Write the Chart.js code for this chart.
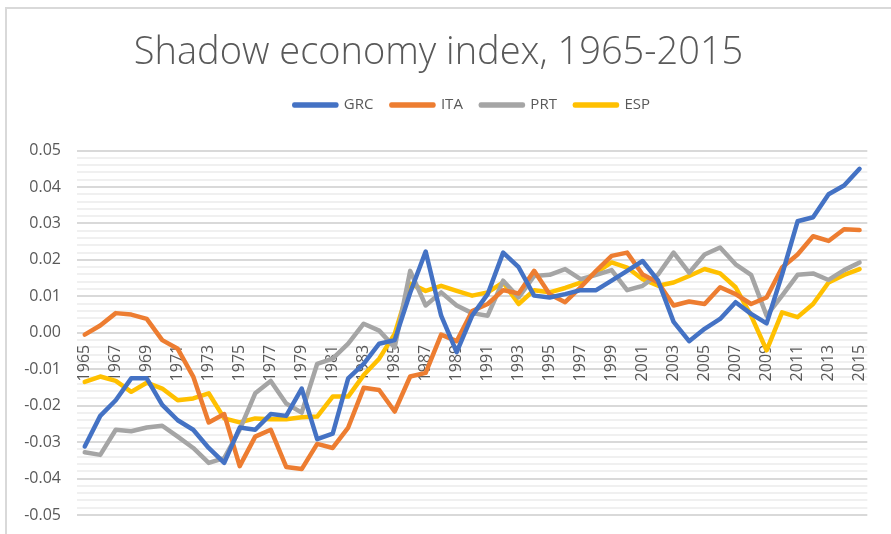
<!DOCTYPE html>
<html>
<head>
<meta charset="utf-8">
<title>Shadow economy index, 1965-2015</title>
<script src="https://cdn.jsdelivr.net/npm/chart.js@4.4.1/dist/chart.umd.min.js"></script>
<style>
    html, body { margin: 0; padding: 0; background: #fff; overflow: hidden; }
    #wrap { position: relative; width: 891px; height: 534px; }
    #frame {
        position: absolute; left: 5px; top: 7px; right: 0; bottom: 0;
        border-top: 2px solid #d9d9d9; border-left: 2px solid #d9d9d9;
        pointer-events: none;
    }
</style>
</head>
<body>
<div id="wrap">
    <canvas id="shadow-chart" width="891" height="534"></canvas>
    <div id="frame"></div>
</div>
<script>
// Data
const years = [];
for (let y = 1965; y <= 2015; y++) years.push(String(y));

const grc = [-0.0312, -0.0228, -0.0185, -0.0125, -0.0125, -0.0198, -0.024, -0.0266, -0.0316, -0.0357,
    -0.026, -0.0266, -0.0223, -0.0228, -0.0153, -0.0292, -0.0277, -0.0125, -0.0085, -0.003,
    -0.002, 0.011, 0.0223, 0.0047, -0.0053, 0.0047, 0.0106, 0.022, 0.018, 0.0102,
    0.0097, 0.0106, 0.0117, 0.0117, 0.0143, 0.017, 0.0197, 0.0143, 0.003, -0.0023,
    0.0011, 0.0038, 0.0084, 0.0052, 0.0026, 0.016, 0.0306, 0.0317, 0.038, 0.0404,
    0.045];
const ita = [-0.0005, 0.002, 0.0054, 0.005, 0.0038, -0.002, -0.0044, -0.012, -0.0246, -0.0223,
    -0.0366, -0.0285, -0.0266, -0.0368, -0.0374, -0.0305, -0.0316, -0.026, -0.0151, -0.0157,
    -0.0216, -0.012, -0.011, -0.0005, -0.0023, 0.006, 0.0079, 0.0117, 0.0108, 0.017,
    0.0106, 0.0084, 0.0125, 0.017, 0.0211, 0.022, 0.016, 0.0138, 0.0075, 0.0086,
    0.0079, 0.0125, 0.0106, 0.0079, 0.0097, 0.0179, 0.0215, 0.0265, 0.0252, 0.0284,
    0.0282];
const prt = [-0.0328, -0.0335, -0.0266, -0.027, -0.026, -0.0255, -0.0285, -0.0316, -0.0357, -0.0344,
    -0.0266, -0.0166, -0.0132, -0.0194, -0.0219, -0.0085, -0.0071, -0.003, 0.0025, 0.0006,
    -0.004, 0.017, 0.0075, 0.0111, 0.0075, 0.0054, 0.0047, 0.0143, 0.0097, 0.0156,
    0.0159, 0.0175, 0.0147, 0.0159, 0.0172, 0.0117, 0.0129, 0.016, 0.022, 0.0165,
    0.0215, 0.0234, 0.0188, 0.0159, 0.0047, 0.0102, 0.0159, 0.0163, 0.0145, 0.0172,
    0.0193];
const esp = [-0.0135, -0.012, -0.0132, -0.0162, -0.0137, -0.0153, -0.0185, -0.018, -0.0166, -0.0235,
    -0.0246, -0.0235, -0.0237, -0.0237, -0.0232, -0.023, -0.0175, -0.0175, -0.0116, -0.0071,
    -0.0003, 0.0135, 0.0115, 0.0129, 0.0115, 0.0102, 0.0111, 0.0138, 0.0079, 0.0117,
    0.0111, 0.0123, 0.0138, 0.0165, 0.0193, 0.0179, 0.0147, 0.0129, 0.0138, 0.0156,
    0.0175, 0.0163, 0.0125, 0.0047, -0.0048, 0.0056, 0.0043, 0.0079, 0.0138, 0.0159,
    0.0175];

const seriesNames = ["GRC", "ITA", "PRT", "ESP"];
const seriesColors = ["#4472C4", "#ED7D31", "#A5A5A5", "#FFC000"];
const seriesData = [grc, ita, prt, esp];

const textColor = "#595959";
Chart.defaults.font.family = "'Open Sans', 'Liberation Sans', sans-serif";
Chart.defaults.color = textColor;

// push the plot area down below the legend
const legendGap = {
    id: "legendGap",
    beforeInit(chart) {
        const fit = chart.legend.fit;
        chart.legend.fit = function () {
            fit.bind(chart.legend)();
            this.height += 28;
        };
    },
};

function isMajor(v) {
    return Math.round(v * 1000) % 10 === 0;
}

document.addEventListener("DOMContentLoaded", () => {
    const ctx = document.getElementById("shadow-chart").getContext("2d");
    new Chart(ctx, {
        type: "line",
        data: {
            labels: years,
            datasets: seriesNames.map((name, i) => ({
                label: name,
                data: seriesData[i],
                borderColor: seriesColors[i],
                backgroundColor: seriesColors[i],
                borderWidth: 4.5,
                pointRadius: 0,
                tension: 0,
                fill: false,
                borderJoinStyle: "round",
                borderCapStyle: "round",
            })),
        },
        options: {
            responsive: false,
            animation: false,
            layout: { padding: { left: 0, right: 14, top: 0, bottom: 19 } },
            plugins: {
                title: {
                    display: true,
                    text: "Shadow economy index, 1965-2015",
                    color: textColor,
                    font: { size: 38, weight: "300" },
                    padding: { top: 30, bottom: 4 },
                },
                legend: {
                    display: true,
                    position: "top",
                    fullSize: false,
                    labels: {
                        boxWidth: 42,
                        boxHeight: 1,
                        padding: 18,
                        color: textColor,
                        font: { size: 15 },
                    },
                },
                tooltip: { enabled: false },
            },
            scales: {
                x: {
                    type: "category",
                    offset: true,
                    position: { y: 0 },
                    grid: { display: false, drawTicks: false },
                    border: { display: false },
                    ticks: {
                        autoSkip: false,
                        minRotation: 90,
                        maxRotation: 90,
                        padding: 12,
                        color: textColor,
                        font: { size: 16 },
                        callback: (val, idx) => (idx % 2 === 0 ? years[idx] : ""),
                    },
                },
                y: {
                    position: "left",
                    min: -0.05,
                    max: 0.05,
                    afterFit: (scale) => {
                        scale.width = 77;
                        scale.paddingTop = 0;
                        scale.paddingBottom = 0;
                    },
                    grid: {
                        drawTicks: false,
                        lineWidth: 2,
                        color: (c) => (c.tick && isMajor(c.tick.value) ? "#d9d9d9" : "#f0f0f0"),
                    },
                    border: { display: false },
                    ticks: {
                        stepSize: 0.002,
                        autoSkip: false,
                        padding: 16,
                        color: textColor,
                        font: { size: 16 },
                        callback: (v) => (isMajor(v) ? (Math.round(v * 100) / 100).toFixed(2) : ""),
                    },
                },
            },
        },
        plugins: [legendGap],
    });
});
</script>
</body>
</html>
